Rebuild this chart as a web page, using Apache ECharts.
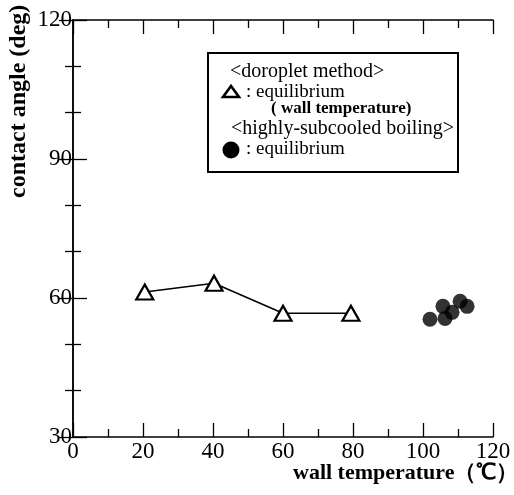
<!DOCTYPE html>
<html><head><meta charset="utf-8">
<script src="https://cdn.jsdelivr.net/npm/echarts@6/dist/echarts.min.js"></script>
<style>html,body{margin:0;padding:0;background:#fff}#c{width:514px;height:495px}</style>
</head><body><div id="c"></div>
<script>
// Data
var dropletTemp = [20.5, 40.3, 60, 79.4];
var dropletAngle = [61.3, 63.2, 56.7, 56.7];
var boilingTemp = [102, 105.7, 106.3, 108.3, 110.6, 112.6];
var boilingAngle = [55.4, 58.2, 55.6, 56.9, 59.3, 58.2];
var xTicks = [0, 20, 40, 60, 80, 100, 120];
var yTicks = [30, 60, 90, 120];

var serif = '"Liberation Serif", "Times New Roman", serif';
var chart = echarts.init(document.getElementById('c'));
var axLine = {show: true, lineStyle: {color: '#000', width: 1.5}};
function baseX(pos, labels) {
  return {type: 'value', position: pos, min: 0, max: 120, interval: 20,
    axisLine: axLine,
    axisTick: {show: true, inside: true, length: 14, lineStyle: {color: '#000', width: 1.3}},
    minorTick: {show: true, splitNumber: 2, length: 8, lineStyle: {color: '#000', width: 1.3}},
    splitLine: {show: false},
    axisLabel: {show: labels, color: '#000', fontFamily: serif, fontSize: 23, margin: 3,
      formatter: function (v) { return xTicks.indexOf(v) >= 0 ? String(v) : ''; }}
  };
}
function baseY(pos, labels) {
  return {type: 'value', position: pos, min: 30, max: 120, interval: 30,
    axisLine: axLine,
    axisTick: {show: true, inside: true, length: 14, lineStyle: {color: '#000', width: 1.3}},
    minorTick: {show: true, splitNumber: 3, length: 8, lineStyle: {color: '#000', width: 1.3}},
    splitLine: {show: false},
    axisLabel: {show: labels, color: '#000', fontFamily: serif, fontSize: 23, margin: 1,
      formatter: function (v) { return yTicks.indexOf(v) >= 0 ? String(v) : ''; }}
  };
}
function txt(x, y, s, font) {
  return {type: 'text', x: x, y: y, z: 11,
    style: {text: s, fill: '#000', font: font, verticalAlign: 'middle', textVerticalAlign: 'middle'}};
}
var option = {
  backgroundColor: '#fff',
  animation: false,
  grid: {left: 73, right: 21, top: 20, bottom: 58},
  xAxis: [baseX('bottom', true), baseX('top', false)],
  yAxis: [baseY('left', true), baseY('right', false)],
  series: [
    {type: 'line', xAxisIndex: 0, yAxisIndex: 0,
      data: dropletTemp.map(function (t, i) { return [t, dropletAngle[i]]; }),
      symbol: 'triangle', symbolSize: [17, 15], showAllSymbol: true,
      itemStyle: {color: '#fff', borderColor: '#000', borderWidth: 2.2},
      lineStyle: {color: '#000', width: 1.6}, z: 3},
    {type: 'scatter', xAxisIndex: 0, yAxisIndex: 0,
      data: boilingTemp.map(function (t, i) { return [t, boilingAngle[i]]; }),
      symbol: 'circle', symbolSize: 15,
      itemStyle: {color: '#000'}}
  ],
  graphic: [
    {type: 'text', x: 293, y: 473, style: {text: 'wall temperature（℃）', fill: '#000',
      font: 'bold 22px ' + serif, verticalAlign: 'middle', textVerticalAlign: 'middle'}},
    {type: 'text', x: 7, y: 198, rotation: Math.PI / 2, style: {text: 'contact angle (deg)', fill: '#000',
      font: 'bold 24px ' + serif, verticalAlign: 'top', textVerticalAlign: 'top'}},
    {type: 'rect', shape: {x: 208, y: 53, width: 250, height: 119},
      style: {fill: '#fff', stroke: '#000', lineWidth: 2}, z: 10},
    txt(230, 72, '<doroplet method>', '20px ' + serif),
    {type: 'polygon', z: 11, shape: {points: [[231, 86], [223, 97], [239, 97]]},
      style: {fill: 'none', stroke: '#000', lineWidth: 2.6}},
    txt(246, 92, ': equilibrium', '19px ' + serif),
    txt(271, 109, '( wall temperature)', 'bold 17px ' + serif),
    txt(231, 129, '<highly-subcooled boiling>', '20px ' + serif),
    {type: 'circle', z: 11, shape: {cx: 231, cy: 150, r: 8.5}, style: {fill: '#000'}},
    txt(246, 149, ': equilibrium', '19px ' + serif)
  ]
};
chart.setOption(option);
</script></body></html>
